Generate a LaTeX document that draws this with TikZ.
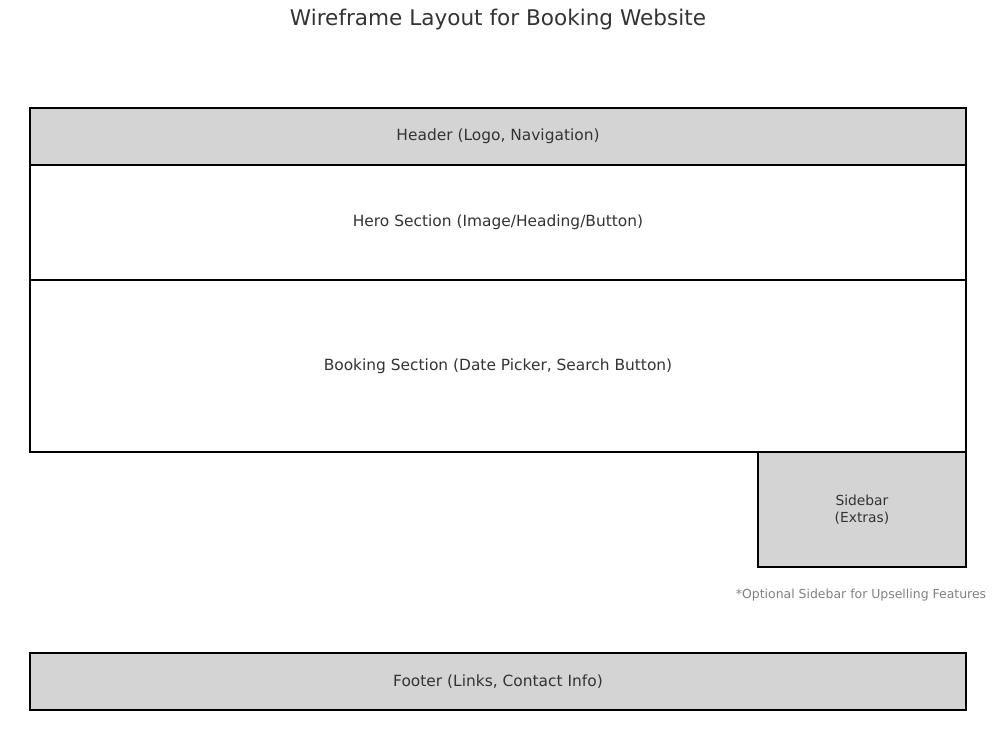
\documentclass[tikz,border=0pt]{standalone}
\usepackage{fontspec}
\setmainfont{DejaVu Sans}
\usetikzlibrary{positioning}

\begin{document}
\begin{tikzpicture}[
    x=0.0254cm, y=-0.0254cm,
    every node/.style={
        align=center,
        text=black!80,
        font=\fontsize{11.15}{13}\selectfont,
        outer sep=0pt
    },
    section/.style={
        draw,
        line width=0.9pt,
        minimum width=23.774cm,
        inner sep=0pt
    },
    graybox/.style={section, fill=black!17},
    sidebox/.style={
        draw,
        line width=0.9pt,
        fill=black!17,
        minimum width=5.283cm,
        minimum height=2.921cm,
        inner sep=0pt,
        font=\fontsize{10}{12}\selectfont
    }
]

\useasboundingbox (0,0) rectangle (1000,750);

\node (title) at (498,20) {\fontsize{15.6}{18}\selectfont Wireframe Layout for Booking Website};

\node (header) [graybox, minimum height=1.448cm] at (498,136.5)
    {Header (Logo, Navigation)};

\node (hero) [section, minimum height=2.921cm, below=0pt of header]
    {Hero Section (Image/Heading/Button)};

\node (booking) [section, minimum height=4.369cm, below=0pt of hero]
    {Booking Section (Date Picker, Search Button)};

\node (sidebar) [sidebox, anchor=north east] at (booking.south east)
    {Sidebar\\(Extras)};

\node (note) [text=black!50, font=\fontsize{9}{11}\selectfont] at (861,595)
    {*Optional Sidebar for Upselling Features};

\node (footer) [graybox, minimum height=1.448cm] at (498,681.5)
    {Footer (Links, Contact Info)};

\end{tikzpicture}
\end{document}
